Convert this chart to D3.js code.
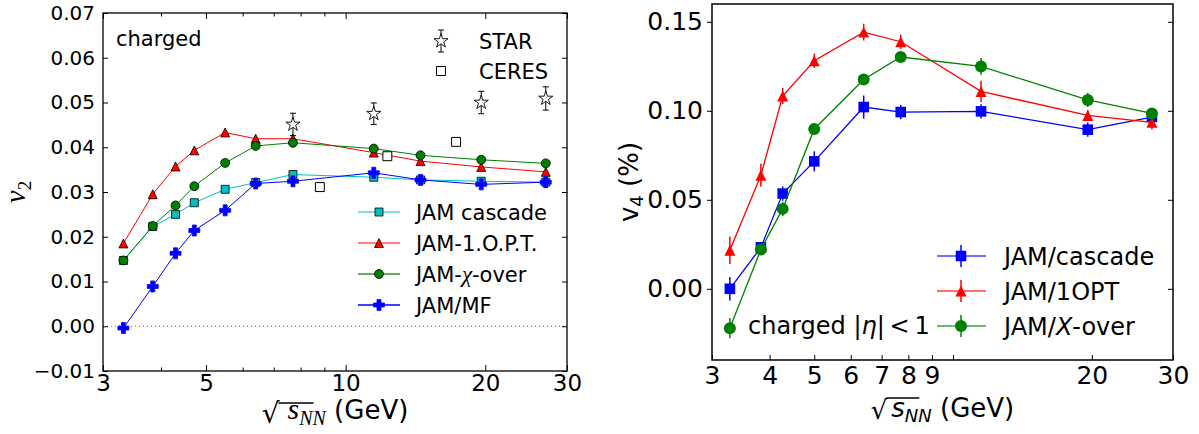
<!DOCTYPE html>
<html><head><meta charset="utf-8">
<script src="https://cdn.jsdelivr.net/npm/d3@7"></script>
<style>body{margin:0;background:#fff} svg{display:block}</style>
</head><body>
<svg id="c" width="1199" height="434"></svg>
<script>
// ---------------- DATA: left panel (v2) ----------------
const energyL = [3.32, 3.84, 4.3, 4.72, 5.5, 6.4, 7.7, 11.5, 14.5, 19.6, 27];
const v2Cascade = [0.0147, 0.0223, 0.0250, 0.0276, 0.0306, 0.0321, 0.0339, 0.0333, 0.0327, 0.0324, 0.0322];
const v2OPT     = [0.0185, 0.0295, 0.0357, 0.0393, 0.0433, 0.0419, 0.0419, 0.0388, 0.0369, 0.0356, 0.0345];
const v2Xover   = [0.0147, 0.0224, 0.0270, 0.0313, 0.0365, 0.0403, 0.0410, 0.0397, 0.0382, 0.0372, 0.0364];
const v2MF      = [-0.0004, 0.0089, 0.0163, 0.0214, 0.0259, 0.0319, 0.0324, 0.0343, 0.0327, 0.0317, 0.0322];
const starE = [7.7, 11.5, 19.6, 27];
const starV = [0.0451, 0.0475, 0.0500, 0.0509];
const starErr = [0.0025, 0.0024, 0.0025, 0.0026];
const ceresE = [8.8, 12.3, 17.3];
const ceresV = [0.0311, 0.0380, 0.0412];
const xTicksL = [3, 4, 5, 6, 7, 8, 9, 10, 20, 30];
const xLabelsL = [3, 5, 10, 20, 30];
const yTicksL = [-0.01, 0.00, 0.01, 0.02, 0.03, 0.04, 0.05, 0.06, 0.07];
const legendL = ["JAM cascade", "JAM-1.O.P.T.", "JAM-χ-over", "JAM/MF"];

// ---------------- DATA: right panel (v4) ----------------
const energyR = [3.28, 3.83, 4.27, 5.0, 6.4, 7.7, 11.5, 19.6, 27];
const v4Cascade = [0.0, 0.0233, 0.0535, 0.0716, 0.1021, 0.0993, 0.0997, 0.0894, 0.0965];
const v4CascadeErr = [0.0066, 0.003, 0.004, 0.0056, 0.0065, 0.004, 0.004, 0.004, 0.003];
const v4OPT = [0.0217, 0.0638, 0.1083, 0.1281, 0.1442, 0.1388, 0.1109, 0.0974, 0.0935];
const v4OPTErr = [0.0077, 0.0065, 0.0045, 0.004, 0.0047, 0.004, 0.006, 0.003, 0.004];
const v4Xover = [-0.0221, 0.0221, 0.0449, 0.0898, 0.1176, 0.1302, 0.1249, 0.1061, 0.0985];
const v4XoverErr = [0.0057, 0.003, 0.004, 0.003, 0.003, 0.003, 0.0047, 0.004, 0.003];
const xTicksR = [3, 4, 5, 6, 7, 8, 9, 10, 20, 30];
const xLabelsR = [3, 4, 5, 6, 7, 8, 9, 20, 30];
const yTicksR = [0.00, 0.05, 0.10, 0.15];
const legendR = ["JAM/cascade", "JAM/1OPT", "JAM/X-over"];

// ---------------- helpers ----------------
const FONT = "DejaVu Sans, sans-serif";
const SERIF = "Liberation Serif, DejaVu Serif, serif";
const svg = d3.select("#c");
const zip = (xs, ys, es) => xs.map((x, i) => ({e: x, v: ys[i], err: es ? es[i] : 0}));

const triSym = {draw(c, s) { const h = Math.sqrt(s); c.moveTo(0, -h); c.lineTo(h, h); c.lineTo(-h, h); c.closePath(); }};
const sqSym = {draw(c, s) { const h = Math.sqrt(s); c.rect(-h, -h, 2*h, 2*h); }};
const plusSym = {draw(c, s) { const h = Math.sqrt(s), t = h * 0.36;
  c.moveTo(-t, -h); c.lineTo(t, -h); c.lineTo(t, -t); c.lineTo(h, -t); c.lineTo(h, t); c.lineTo(t, t);
  c.lineTo(t, h); c.lineTo(-t, h); c.lineTo(-t, t); c.lineTo(-h, t); c.lineTo(-h, -t); c.lineTo(-t, -t); c.closePath(); }};
const circSym = {draw(c, s) { const r = Math.sqrt(s); c.moveTo(r, 0); c.arc(0, 0, r, 0, 2*Math.PI); }};

function fmtTick(d) { return (d < 0 ? "\u2212" : "") + Math.abs(d).toFixed(2); }
function styleAxis(g, size) {
  g.attr("font-family", null).attr("font-size", null);
  g.select(".domain").remove();
  g.selectAll(".tick line").attr("stroke", "#000").attr("stroke-width", 1);
  g.selectAll(".tick text").attr("font-family", FONT).attr("font-size", size).attr("fill", "#000");
}

// =============== LEFT PANEL ===============
const L = {x0: 103, x1: 567, y0: 13, y1: 371};
const xL = d3.scaleLog().domain([3, 30]).range([L.x0, L.x1]);
const yL = d3.scaleLinear().domain([-0.01, 0.07]).range([L.y1, L.y0]);

// zero dotted line
svg.append("line").attr("x1", L.x0).attr("x2", L.x1).attr("y1", yL(0)).attr("y2", yL(0))
  .attr("stroke", "#666").attr("stroke-width", 1).attr("stroke-dasharray", "1,3");

const seriesL = [
  {data: zip(energyL, v2Cascade), color: "#00bfbf", sym: sqSym, size: 16, stroke: "#000", legend: "#7fdfdf"},
  {data: zip(energyL, v2OPT), color: "#ff0000", sym: triSym, size: 20, stroke: "#000", legend: "#ff8080"},
  {data: zip(energyL, v2Xover), color: "#008000", sym: circSym, size: 20, stroke: "#000", legend: "#5faf5f"},
  {data: zip(energyL, v2MF), color: "#0000ff", sym: plusSym, size: 30, stroke: "#0000ff", legend: "#3f3fff"}
];
const lineL = d3.line().x(d => xL(d.e)).y(d => yL(d.v));
seriesL.forEach(s => {
  svg.append("path").attr("d", lineL(s.data)).attr("fill", "none").attr("stroke", s.color).attr("stroke-width", 1);
});
seriesL.forEach(s => {
  svg.append("g").selectAll("path").data(s.data).join("path")
    .attr("transform", d => `translate(${xL(d.e)},${yL(d.v)})`)
    .attr("d", d3.symbol().type(s.sym).size(s.size)())
    .attr("fill", s.color).attr("stroke", s.stroke).attr("stroke-width", 0.8);
});

// STAR points with error bars
const starData = zip(starE, starV, starErr);
const gStar = svg.append("g");
starData.forEach(d => {
  const x = xL(d.e), ya = yL(d.v - d.err), yb = yL(d.v + d.err);
  gStar.append("line").attr("x1", x).attr("x2", x).attr("y1", ya).attr("y2", yb).attr("stroke", "#000").attr("stroke-width", 1);
  [ya, yb].forEach(yy => gStar.append("line").attr("x1", x - 3).attr("x2", x + 3).attr("y1", yy).attr("y2", yy).attr("stroke", "#000").attr("stroke-width", 1));
});
gStar.selectAll("path").data(starData).join("path")
  .attr("transform", d => `translate(${xL(d.e)},${yL(d.v)})`)
  .attr("d", d3.symbol().type(d3.symbolStar).size(62)())
  .attr("fill", "#fff").attr("stroke", "#000").attr("stroke-width", 0.9);

// CERES open squares
svg.append("g").selectAll("path").data(zip(ceresE, ceresV)).join("path")
  .attr("transform", d => `translate(${xL(d.e)},${yL(d.v)})`)
  .attr("d", d3.symbol().type(sqSym).size(20)())
  .attr("fill", "#fff").attr("stroke", "#000").attr("stroke-width", 1);

// frame
svg.append("rect").attr("x", L.x0).attr("y", L.y0).attr("width", L.x1 - L.x0).attr("height", L.y1 - L.y0)
  .attr("fill", "none").attr("stroke", "#000").attr("stroke-width", 1.3);

// axes
const gxL = svg.append("g").attr("transform", `translate(0,${L.y1})`)
  .call(d3.axisBottom(xL).tickValues(xTicksL).tickFormat(d => xLabelsL.includes(d) ? d : "").tickSize(-5).tickPadding(4).tickSizeOuter(0));
styleAxis(gxL, 23);
gxL.selectAll(".tick line").attr("y2", d => xLabelsL.includes(d) ? -6 : -3.5);
const gxLt = svg.append("g").attr("transform", `translate(0,${L.y0})`)
  .call(d3.axisTop(xL).tickValues(xTicksL).tickFormat("").tickSize(-5).tickSizeOuter(0));
styleAxis(gxLt, 20);
gxLt.selectAll(".tick line").attr("y2", d => xLabelsL.includes(d) ? 6 : 3.5);
const gyL = svg.append("g").attr("transform", `translate(${L.x0},0)`)
  .call(d3.axisLeft(yL).tickValues(yTicksL).tickFormat(fmtTick).tickSize(-5).tickPadding(8).tickSizeOuter(0));
styleAxis(gyL, 20);
const gyLr = svg.append("g").attr("transform", `translate(${L.x1},0)`)
  .call(d3.axisRight(yL).tickValues(yTicksL).tickFormat("").tickSize(-5).tickSizeOuter(0));
styleAxis(gyLr, 20);

// texts
svg.append("text").attr("x", 116).attr("y", 46).attr("font-family", FONT).attr("font-size", 21).text("charged");

// top legend (STAR / CERES)
{
  const lx = 441, ly1 = 41, ly2 = 71;
  svg.append("line").attr("x1", lx).attr("x2", lx).attr("y1", ly1 - 11).attr("y2", ly1 + 11).attr("stroke", "#000");
  [ly1 - 11, ly1 + 11].forEach(yy => svg.append("line").attr("x1", lx - 3).attr("x2", lx + 3).attr("y1", yy).attr("y2", yy).attr("stroke", "#000"));
  svg.append("path").attr("transform", `translate(${lx},${ly1})`).attr("d", d3.symbol().type(d3.symbolStar).size(62)())
    .attr("fill", "#fff").attr("stroke", "#000").attr("stroke-width", 0.9);
  svg.append("path").attr("transform", `translate(${lx},${ly2})`).attr("d", d3.symbol().type(sqSym).size(20)())
    .attr("fill", "#fff").attr("stroke", "#000").attr("stroke-width", 1);
  svg.append("text").attr("x", 479).attr("y", ly1).attr("dy", "0.36em").attr("font-family", FONT).attr("font-size", 21).text("STAR");
  svg.append("text").attr("x", 479).attr("y", ly2).attr("dy", "0.36em").attr("font-family", FONT).attr("font-size", 21).text("CERES");
}
// bottom legend
{
  const ys = [212, 243, 274, 305];
  seriesL.forEach((s, i) => {
    svg.append("line").attr("x1", 358).attr("x2", 400).attr("y1", ys[i]).attr("y2", ys[i]).attr("stroke", s.legend).attr("stroke-width", 2);
    svg.append("path").attr("transform", `translate(379,${ys[i]})`).attr("d", d3.symbol().type(s.sym).size(s.size)())
      .attr("fill", s.color).attr("stroke", s.stroke).attr("stroke-width", 0.8);
    const t = svg.append("text").attr("x", 416).attr("y", ys[i]).attr("dy", "0.36em").attr("font-family", FONT).attr("font-size", 21);
    const lab = legendL[i];
    if (lab.includes("χ")) {
      const [a, b] = lab.split("χ");
      t.append("tspan").text(a);
      t.append("tspan").text("χ").attr("font-family", SERIF).attr("font-style", "italic").attr("font-size", 23);
      t.append("tspan").text(b);
    } else t.text(lab);
  });
}

// axis labels left
{
  const t = svg.append("text").attr("transform", "translate(25,192) rotate(-90)").attr("text-anchor", "middle");
  t.append("tspan").text("v").attr("font-family", SERIF).attr("font-style", "italic").attr("font-size", 29);
  t.append("tspan").text("2").attr("font-family", SERIF).attr("font-size", 19).attr("dy", 6);
}
function sqrtLabel(cx, base, o) {
  const t = svg.append("text").attr("x", cx).attr("y", base).attr("text-anchor", "middle");
  t.append("tspan").text("\u221A").attr("font-family", FONT).attr("font-size", o.rootSize).attr("dy", o.rootDy);
  t.append("tspan").text("s").attr("font-family", o.sFont).attr("font-style", "italic").attr("font-size", o.sSize).attr("dx", o.sDx).attr("dy", -o.rootDy);
  t.append("tspan").text("NN").attr("font-family", o.sFont).attr("font-style", "italic").attr("font-size", o.subSize).attr("dy", o.subDy);
  t.append("tspan").text(" (GeV)").attr("font-family", FONT).attr("font-size", o.mainSize).attr("dy", -o.subDy);
  const node = t.node();
  const xa = node.getEndPositionOfChar(0).x - 1, xb = node.getEndPositionOfChar(2).x + 1;
  svg.append("line").attr("x1", xa).attr("x2", xb).attr("y1", base - o.barUp).attr("y2", base - o.barUp)
    .attr("stroke", "#000").attr("stroke-width", 1.3);
}
sqrtLabel((L.x0 + L.x1) / 2, 419, {rootSize: 28, rootDy: 4, sFont: SERIF, sSize: 30, sDx: 8, subSize: 20, subDy: 6, mainSize: 26, barUp: 16});

// =============== RIGHT PANEL ===============
const R = {x0: 712, x1: 1173, y0: 4, y1: 360};
const xR = d3.scaleLog().domain([3, 30]).range([R.x0, R.x1]);
const yR = d3.scaleLinear().domain([-0.04, 0.16]).range([R.y1, R.y0]);

const seriesR = [
  {data: zip(energyR, v4Cascade, v4CascadeErr), color: "#0000ff", sym: sqSym, size: 28},
  {data: zip(energyR, v4OPT, v4OPTErr), color: "#ff0000", sym: triSym, size: 30},
  {data: zip(energyR, v4Xover, v4XoverErr), color: "#008000", sym: circSym, size: 36}
];
const lineR = d3.line().x(d => xR(d.e)).y(d => yR(d.v));
seriesR.forEach(s => {
  const g = svg.append("g");
  g.append("path").attr("d", lineR(s.data)).attr("fill", "none").attr("stroke", s.color).attr("stroke-width", 1.3);
  g.selectAll("line").data(s.data).join("line")
    .attr("x1", d => xR(d.e)).attr("x2", d => xR(d.e))
    .attr("y1", d => yR(d.v - d.err)).attr("y2", d => yR(d.v + d.err))
    .attr("stroke", s.color).attr("stroke-width", 1.5);
  g.selectAll("path.m").data(s.data).join("path").attr("class", "m")
    .attr("transform", d => `translate(${xR(d.e)},${yR(d.v)})`)
    .attr("d", d3.symbol().type(s.sym).size(s.size)())
    .attr("fill", s.color);
});

svg.append("rect").attr("x", R.x0).attr("y", R.y0).attr("width", R.x1 - R.x0).attr("height", R.y1 - R.y0)
  .attr("fill", "none").attr("stroke", "#000").attr("stroke-width", 1.5);

const gxR = svg.append("g").attr("transform", `translate(0,${R.y1})`)
  .call(d3.axisBottom(xR).tickValues(xTicksR).tickFormat(d => xLabelsR.includes(d) ? d : "").tickSize(-5).tickPadding(6).tickSizeOuter(0));
styleAxis(gxR, 25);
const gyR = svg.append("g").attr("transform", `translate(${R.x0},0)`)
  .call(d3.axisLeft(yR).tickValues(yTicksR).tickFormat(fmtTick).tickSize(5).tickPadding(4).tickSizeOuter(0));
styleAxis(gyR, 25);
const gyRr = svg.append("g").attr("transform", `translate(${R.x1},0)`)
  .call(d3.axisRight(yR).tickValues(yTicksR).tickFormat("").tickSize(-5).tickSizeOuter(0));
styleAxis(gyRr, 25);

// legend right
{
  const ys = [256, 291, 326];
  seriesR.forEach((s, i) => {
    svg.append("line").attr("x1", 937).attr("x2", 986).attr("y1", ys[i]).attr("y2", ys[i]).attr("stroke", s.color).attr("stroke-opacity", 0.75).attr("stroke-width", 1.5);
    svg.append("line").attr("x1", 961).attr("x2", 961).attr("y1", ys[i] - 11).attr("y2", ys[i] + 11).attr("stroke", s.color).attr("stroke-width", 1.5);
    svg.append("path").attr("transform", `translate(961,${ys[i]})`).attr("d", d3.symbol().type(s.sym).size(s.size)()).attr("fill", s.color);
    const t = svg.append("text").attr("x", 1004).attr("y", ys[i]).attr("dy", "0.36em").attr("font-family", FONT).attr("font-size", 24);
    const lab = legendR[i];
    if (lab.includes("X-")) {
      t.append("tspan").text("JAM/");
      t.append("tspan").text("X").attr("font-style", "italic");
      t.append("tspan").text("-over");
    } else t.text(lab);
  });
}
// charged |eta| < 1
{
  const t = svg.append("text").attr("x", 748).attr("y", 334).attr("font-family", FONT).attr("font-size", 24);
  t.append("tspan").text("charged |");
  t.append("tspan").text("η").attr("font-style", "italic");
  t.append("tspan").text("|\u2009<\u20091");
}
// y label right
{
  const t = svg.append("text").attr("transform", "translate(638,182) rotate(-90)").attr("text-anchor", "middle").attr("font-family", FONT).attr("font-size", 26);
  t.append("tspan").text("v");
  t.append("tspan").text("4").attr("font-size", 18).attr("dy", 5);
  t.append("tspan").text(" (%)").attr("dy", -5);
}
sqrtLabel((R.x0 + R.x1) / 2, 417, {rootSize: 26, rootDy: 2, sFont: FONT, sSize: 26, sDx: 4, subSize: 18, subDy: 5, mainSize: 26, barUp: 19});
</script>
</body></html>
